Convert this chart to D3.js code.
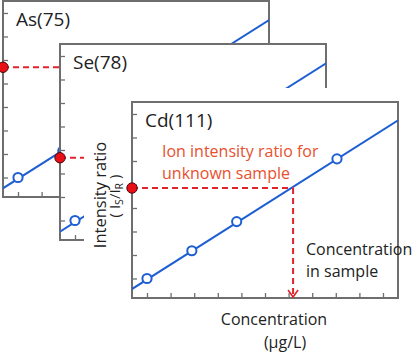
<!DOCTYPE html>
<html>
<head>
<meta charset="utf-8">
<script src="https://cdn.jsdelivr.net/npm/d3@7"></script>
<style>
  html, body { margin: 0; padding: 0; background: #fff; }
  svg { display: block; font-family: "Open Sans", "Noto Sans", sans-serif; }
</style>
</head>
<body>
<svg id="chart" width="417" height="352"></svg>
<script>
// ---- data ----
const panelNames = ["As(75)", "Se(78)", "Cd(111)"];
const xTickValues = [0, 1, 2, 3, 4, 5, 6, 7, 8, 9, 10];
const yTickValues = [0, 1, 2, 3, 4, 5, 6, 7];
const stdConc = [0, 1.9, 3.8, 8.05];
const stdRatioAs = [0, 1.13, 2.4, 5.1];
const stdRatioSe = [0, 1.15, 2.4, 5.1];
const stdRatioCd = [0, 1.18, 2.42, 5.09];
const lineConc = [-0.64, 10.64];
const lineRatioAs = [-0.46, 6.70];
const lineRatioSe = [-0.48, 6.69];
const lineRatioCd = [-0.45, 6.73];
const sampleRatio = [4.69, 2.67, 3.85];
const sampleConc = [7.47, 4.31, 6.19];

const stdRatios = [stdRatioAs, stdRatioSe, stdRatioCd];
const lineRatios = [lineRatioAs, lineRatioSe, lineRatioCd];

// ---- layout ----
const W = 266, H = 196;
const origins = [[3, 1], [60, 44], [132, 102]];
const covers = [null, [0, 0], [-48, -14]];

const blue = "#1d5fd3", red = "#e3232b", axisCol = "#6e6e6e";

const svg = d3.select("#chart");
const x = d3.scaleLinear().domain([-0.636, 10.636]).range([0, W]);
const y = d3.scaleLinear().domain([-0.83, 7.51]).range([H, 0]);

panelNames.forEach((name, i) => {
  const [ox, oy] = origins[i];
  if (covers[i]) {
    svg.append("rect")
      .attr("x", ox + covers[i][0]).attr("y", oy + covers[i][1])
      .attr("width", 417).attr("height", 352)
      .attr("fill", "#fff");
  }
  const g = svg.append("g").attr("transform", `translate(${ox},${oy})`);

  // ticks (inward)
  const ya = g.append("g").call(d3.axisLeft(y).tickValues(yTickValues).tickSize(-5).tickFormat(""));
  const xa = g.append("g").attr("transform", `translate(0,${H})`)
    .call(d3.axisBottom(x).tickValues(xTickValues).tickSize(-5).tickFormat(""));
  [ya, xa].forEach(a => {
    a.select(".domain").remove();
    a.selectAll(".tick line").attr("stroke", axisCol).attr("stroke-width", 1.3);
  });

  // frame
  g.append("rect").attr("x", 0).attr("y", 0).attr("width", W).attr("height", H)
    .attr("fill", "none").attr("stroke", axisCol).attr("stroke-width", 2);

  // title
  g.append("text").attr("x", 13).attr("y", 25)
    .attr("font-size", 19).attr("fill", "#222").text(name);

  const clip = "clip" + i;
  g.append("clipPath").attr("id", clip).append("rect")
    .attr("x", 0).attr("y", 0).attr("width", W).attr("height", H);
  const inner = g.append("g").attr("clip-path", `url(#${clip})`);

  // calibration line
  const lr = lineRatios[i];
  inner.append("path")
    .datum(lineConc.map((c, k) => [c, lr[k]]))
    .attr("d", d3.line().x(d => x(d[0])).y(d => y(d[1])))
    .attr("fill", "none").attr("stroke", blue).attr("stroke-width", 2);

  // unknown sample dashed guide
  const sy = y(sampleRatio[i]), sx = x(sampleConc[i]);
  inner.append("line").attr("x1", 0).attr("y1", sy).attr("x2", sx).attr("y2", sy)
    .attr("stroke", red).attr("stroke-width", 2).attr("stroke-dasharray", "6,4");
  inner.append("line").attr("x1", sx).attr("y1", sy).attr("x2", sx).attr("y2", H - 2)
    .attr("stroke", red).attr("stroke-width", 2).attr("stroke-dasharray", "6,4");
  inner.append("path")
    .attr("d", `M${sx - 5},${H - 8}L${sx},${H - 1}L${sx + 5},${H - 8}`)
    .attr("fill", "none").attr("stroke", red).attr("stroke-width", 1.6);

  // standards
  const sr = stdRatios[i];
  inner.selectAll("circle.std").data(stdConc.map((c, k) => [c, sr[k]])).join("circle")
    .attr("class", "std")
    .attr("cx", d => x(d[0])).attr("cy", d => y(d[1])).attr("r", 4.6)
    .attr("fill", "#fff").attr("stroke", blue).attr("stroke-width", 2);

  // sample point on y axis
  g.append("circle").attr("cx", 0).attr("cy", sy).attr("r", 5.2)
    .attr("fill", "#e80f17").attr("stroke", "#4a0a0a").attr("stroke-width", 1);

  if (i === 2) {
    const ann = g.append("text").attr("font-size", 16).attr("fill", "#e8502e");
    ann.append("tspan").attr("x", 30).attr("y", 55).text("Ion intensity ratio for");
    ann.append("tspan").attr("x", 30).attr("y", 77).text("unknown sample");

    const cs = g.append("text").attr("font-size", 16).attr("fill", "#222");
    cs.append("tspan").attr("x", 174).attr("y", 153).text("Concentration");
    cs.append("tspan").attr("x", 174).attr("y", 175).text("in sample");

    // axis titles
    svg.append("text").attr("x", 274).attr("y", 325).attr("text-anchor", "middle")
      .attr("font-size", 16).attr("fill", "#222").text("Concentration");
    svg.append("text").attr("x", 285).attr("y", 348).attr("text-anchor", "middle")
      .attr("font-size", 16).attr("fill", "#222").text("(μg/L)");

    svg.append("text").attr("transform", "translate(106,195) rotate(-90)")
      .attr("text-anchor", "middle").attr("font-size", 16.5).attr("fill", "#222")
      .text("Intensity ratio");
    const yl = svg.append("text").attr("transform", "translate(120,196) rotate(-90)")
      .attr("text-anchor", "middle").attr("font-size", 15).attr("fill", "#222");
    yl.append("tspan").text("( I");
    yl.append("tspan").attr("font-size", 10.5).attr("dy", 3).text("S");
    yl.append("tspan").attr("dy", -3).text("/I");
    yl.append("tspan").attr("font-size", 10.5).attr("dy", 3).text("R");
    yl.append("tspan").attr("dy", -3).text(" )");
  }
});
</script>
</body>
</html>
